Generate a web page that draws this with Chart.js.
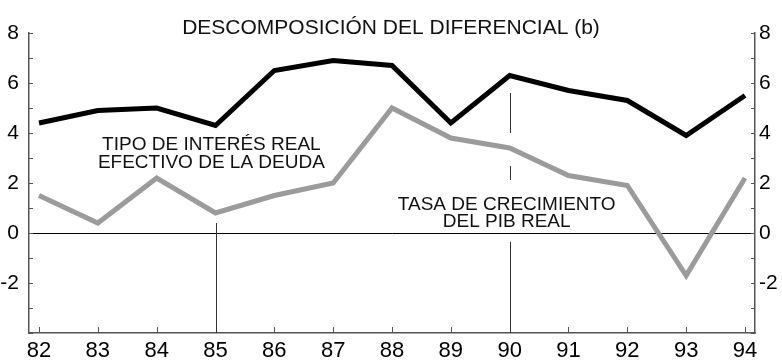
<!DOCTYPE html>
<html>
<head>
<meta charset="utf-8">
<script src="https://cdn.jsdelivr.net/npm/chart.js@4/dist/chart.umd.min.js"></script>
<style>
  html, body { margin: 0; padding: 0; background: #fff; }
  #wrap { width: 782px; height: 362px; }
</style>
</head>
<body>
<div id="wrap"><canvas id="diferencial"></canvas></div>
<script>
const years = [82, 83, 84, 85, 86, 87, 88, 89, 90, 91, 92, 93, 94];
const tipoInteres = [4.4, 4.9, 5.0, 4.3, 6.5, 6.9, 6.7, 4.4, 6.3, 5.7, 5.3, 3.9, 5.5];
const crecimientoPib = [1.5, 0.4, 2.2, 0.8, 1.5, 2.0, 5.0, 3.8, 3.4, 2.3, 1.9, -1.7, 2.2];
const yTicks = [-4, -3, -2, -1, 0, 1, 2, 3, 4, 5, 6, 7, 8];
const yLabels = [-2, 0, 2, 4, 6, 8];

// guide lines under the series labels: [year, from, to]
const guides = [
  [85, 0.4, -4],
  [90, 5.6, 4.0],
  [90, 2.68, 2.12],
  [90, -0.35, -4]
];
// series labels: [year, value, text]
const notes = [
  [84.93, 3.32, 'TIPO DE INTERÉS REAL'],
  [84.93, 2.6, 'EFECTIVO DE LA DEUDA'],
  [89.95, 0.92, 'TASA DE CRECIMIENTO'],
  [89.95, 0.25, 'DEL PIB REAL']
];

const FONT = "'Liberation Sans', Arial, sans-serif";
const AXIS = '#555';

const toXY = (vals) => vals.map((v, i) => ({ x: years[i], y: v }));

const extras = {
  id: 'extras',
  afterDatasetsDraw(chart) {
    const { ctx, scales: { x, y } } = chart;
    const area = chart.chartArea;
    ctx.save();

    // inward tick marks on the three axes
    ctx.strokeStyle = AXIS;
    ctx.lineWidth = 1;
    ctx.beginPath();
    yTicks.forEach(v => {
      const py = Math.round(y.getPixelForValue(v)) + 0.5;
      ctx.moveTo(area.left, py); ctx.lineTo(area.left + 4, py);
      ctx.moveTo(area.right, py); ctx.lineTo(area.right - 4, py);
    });
    years.forEach(v => {
      const px = Math.round(x.getPixelForValue(v)) + 0.5;
      ctx.moveTo(px, area.bottom); ctx.lineTo(px, area.bottom - 6);
    });
    ctx.stroke();

    // guide lines
    ctx.strokeStyle = '#333';
    ctx.lineWidth = 1;
    guides.forEach(([gx, from, to]) => {
      const px = Math.round(x.getPixelForValue(gx)) + 0.5;
      ctx.beginPath();
      ctx.moveTo(px, y.getPixelForValue(from));
      ctx.lineTo(px, y.getPixelForValue(to));
      ctx.stroke();
    });

    // series labels
    ctx.fillStyle = '#111';
    ctx.font = '19px ' + FONT;
    ctx.textAlign = 'center';
    ctx.textBaseline = 'alphabetic';
    notes.forEach(([nx, ny, text]) => {
      ctx.fillText(text, x.getPixelForValue(nx), y.getPixelForValue(ny));
    });
    ctx.restore();
  }
};

const yAxis = (position, width) => ({
  type: 'linear',
  position: position,
  min: -4,
  max: 8,
  afterBuildTicks: (s) => { s.ticks = yTicks.map(v => ({ value: v })); },
  afterFit: (s) => { s.width = width; },
  ticks: {
    padding: position === 'left' ? 10 : 4,
    color: '#000',
    font: { size: 21, family: FONT },
    callback: (v) => yLabels.includes(v) ? String(v) : ''
  },
  border: { display: true, color: AXIS, width: 1.5 },
  grid: {
    drawTicks: false,
    drawOnChartArea: position === 'left',
    color: (c) => c.tick && c.tick.value === 0 ? '#000' : 'rgba(0,0,0,0)',
    lineWidth: 1
  }
});

new Chart(document.getElementById('diferencial'), {
  type: 'line',
  data: {
    datasets: [
      {
        data: toXY(tipoInteres),
        borderColor: '#000',
        borderWidth: 5,
        pointRadius: 0,
        tension: 0
      },
      {
        data: toXY(crecimientoPib),
        borderColor: '#9b9b9b',
        borderWidth: 5,
        pointRadius: 0,
        tension: 0
      }
    ]
  },
  options: {
    responsive: true,
    maintainAspectRatio: false,
    animation: false,
    events: [],
    layout: { padding: 0 },
    scales: {
      x: {
        type: 'linear',
        min: 81.83,
        max: 94.17,
        afterBuildTicks: (s) => { s.ticks = years.map(v => ({ value: v })); },
        afterFit: (s) => { s.height = 29; },
        ticks: {
          padding: 5,
          color: '#000',
          maxRotation: 0,
          font: { size: 22, family: FONT },
          callback: (v) => String(v)
        },
        border: { display: true, color: AXIS, width: 1.5 },
        grid: { drawTicks: false, drawOnChartArea: false }
      },
      y: yAxis('left', 29),
      y2: yAxis('right', 27)
    },
    plugins: {
      legend: { display: false },
      tooltip: { enabled: false },
      title: {
        display: true,
        text: 'DESCOMPOSICIÓN DEL DIFERENCIAL (b)',
        color: '#111',
        font: { size: 21, family: FONT, weight: 'normal', lineHeight: 9 / 21 },
        padding: { top: 24, bottom: 0 }
      }
    }
  },
  plugins: [extras]
});
</script>
</body>
</html>
